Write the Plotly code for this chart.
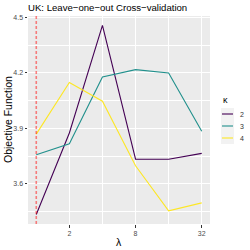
import math
import plotly.graph_objects as go

lambdas = [1, 2, 4, 8, 16, 32]
kappa_labels = ["2", "3", "4"]
obj_k2 = [3.434, 3.875, 4.457, 3.734, 3.733, 3.765]
obj_k3 = [3.758, 3.817, 4.178, 4.218, 4.200, 3.885]
obj_k4 = [3.869, 4.148, 4.047, 3.698, 3.454, 3.497]
colors = ["#440154", "#21908C", "#FDE725"]
x_ticks = [2, 8, 32]
y_ticks = [3.6, 3.9, 4.2, 4.5]
vline_x = 1

W, H = 250, 250
ML, MR, MT, MB = 28, 40, 16, 26
PW, PH = W - ML - MR, H - MT - MB

def px(x):
    return (x - ML) / PW

def py(y):
    return (H - MB - y) / PH

fig = go.Figure()
for lab, vals, col in zip(kappa_labels, [obj_k2, obj_k3, obj_k4], colors):
    fig.add_trace(go.Scatter(x=lambdas, y=vals, mode="lines", name=lab,
                             line=dict(color=col, width=1.1), showlegend=False))

fig.add_shape(type="line", xref="x", yref="paper", x0=vline_x, x1=vline_x, y0=0, y1=1,
              line=dict(color="rgba(255,0,0,0.48)", width=1.6, dash="3px,2px"))

allv = obj_k2 + obj_k3 + obj_k4
ymin, ymax = min(allv), max(allv)
pad = (ymax - ymin) * 0.05
lx0, lx1 = 0, math.log10(32)
lpad = (lx1 - lx0) * 0.05

fig.update_layout(
    width=W, height=H,
    margin=dict(l=ML, r=MR, t=MT, b=MB, autoexpand=False),
    paper_bgcolor="white", plot_bgcolor="#EBEBEB",
    font=dict(family="Liberation Sans, Arial, sans-serif"),
    title=dict(text="UK: Leave\u2212one\u2212out Cross\u2212validation", x=ML / W, xanchor="left",
               y=1 - 8 / H, yanchor="middle", font=dict(size=9.6, color="black")),
    xaxis=dict(type="log", range=[lx0 - lpad, lx1 + lpad], tickvals=x_ticks, automargin=False,
               ticktext=[str(v) for v in x_ticks], showgrid=True, gridcolor="white", gridwidth=1,
               zeroline=False, ticks="outside", ticklen=2.5, tickcolor="#333333", tickwidth=0.8,
               tickfont=dict(size=7, color="#4D4D4D"), showline=False,
               minor=dict(tickvals=[4, 16], showgrid=True, gridcolor="white", gridwidth=0.5, ticks="")),
    yaxis=dict(range=[ymin - pad, ymax + pad], tickvals=y_ticks, automargin=False,
               ticktext=[f"{v:.1f}" for v in y_ticks], showgrid=True, gridcolor="white", gridwidth=1,
               zeroline=False, ticks="outside", ticklen=2.5, tickcolor="#333333", tickwidth=0.8,
               tickfont=dict(size=7, color="#4D4D4D"), showline=False,
               minor=dict(tickvals=[3.45, 3.75, 4.05, 4.35], showgrid=True, gridcolor="white",
                          gridwidth=0.5, ticks="")),
)

# axis titles
fig.add_annotation(text="\u03bb", xref="paper", yref="paper", x=0.5, y=py(242),
                   xanchor="center", yanchor="middle", showarrow=False,
                   font=dict(size=10.5, color="black"))
fig.add_annotation(text="Objective Function", xref="paper", yref="paper", x=px(8), y=0.5,
                   xanchor="center", yanchor="middle", showarrow=False, textangle=-90,
                   font=dict(size=10.5, color="black"))

# manual legend (ggplot style)
fig.add_annotation(text="\u03ba", xref="paper", yref="paper", x=px(221), y=py(100),
                   xanchor="left", yanchor="middle", showarrow=False,
                   font=dict(size=9, color="black"))
fig.add_shape(type="rect", xref="paper", yref="paper", x0=px(221), x1=px(234),
              y0=py(144), y1=py(108), fillcolor="#F2F2F2", line=dict(width=0), layer="below")
for i, (lab, col) in enumerate(zip(kappa_labels, colors)):
    yy = 114 + 12 * i
    fig.add_shape(type="line", xref="paper", yref="paper", x0=px(222), x1=px(233),
                  y0=py(yy), y1=py(yy), line=dict(color=col, width=1.1))
    fig.add_annotation(text=lab, xref="paper", yref="paper", x=px(238), y=py(yy),
                       xanchor="left", yanchor="middle", showarrow=False,
                       font=dict(size=7, color="#333333"))

fig.write_html("out.html", post_script="document.body.style.margin='0';",
               config={"displayModeBar": False})
